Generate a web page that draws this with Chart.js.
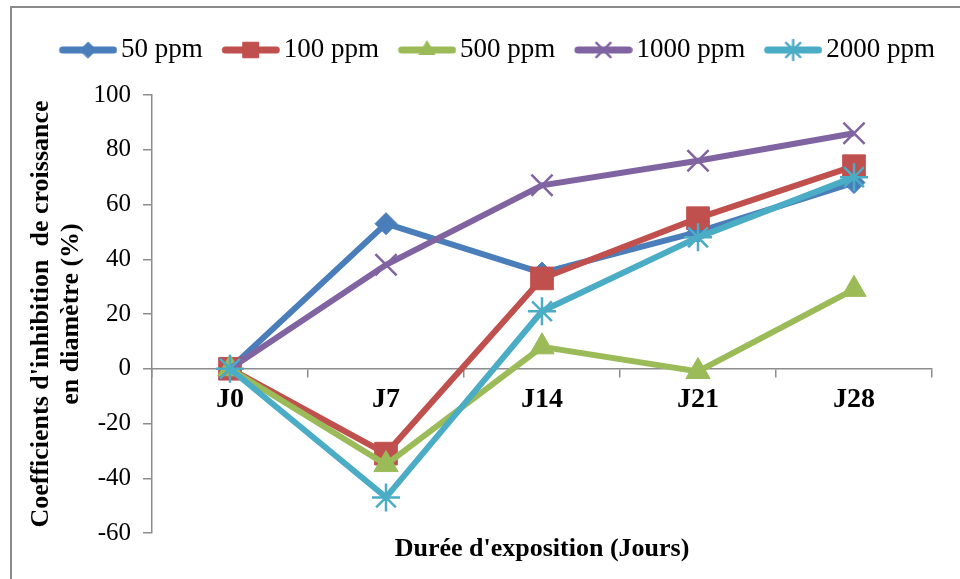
<!DOCTYPE html>
<html>
<head>
<meta charset="utf-8">
<script src="https://cdn.jsdelivr.net/npm/chart.js@4.4.1/dist/chart.umd.min.js"></script>
<style>
  html, body { margin: 0; padding: 0; background: #fff; }
  #wrap { position: relative; width: 960px; height: 579px; }
  #frame { position: absolute; left: 10px; top: 6px; right: 0; bottom: 0;
           border-left: 2px solid #8a8a8a; border-top: 2px solid #8a8a8a; pointer-events: none; }
  canvas { position: absolute; left: 0; top: 0; }
</style>
</head>
<body>
<div id="wrap">
  <canvas id="c" width="960" height="579"></canvas>
  <div id="frame"></div>
</div>
<script>
// Exposure days
const categories = ['J0', 'J7', 'J14', 'J21', 'J28'];

// Growth inhibition coefficients (%) per concentration
const ppm50   = [0, 53, 35, 50, 68];
const ppm100  = [0, -31, 33, 55, 74];
const ppm500  = [0, -35, 8, -1, 29];
const ppm1000 = [0, 38, 67, 76, 86];
const ppm2000 = [0, -47, 21, 48, 70];

const seriesNames = ['50 ppm', '100 ppm', '500 ppm', '1000 ppm', '2000 ppm'];

// Y axis ticks
const yMin = -60, yMax = 100, yStep = 20;

const FONT = "'Liberation Serif', 'Times New Roman', serif";
const AXIS_GREY = '#8c8c8c';

const styles = [
  { color: '#4a7ebb', point: 'rectRot',  radius: 11, pw: 1,   legendR: 8 },
  { color: '#c0504d', point: 'rect',     radius: 16, pw: 1,   legendR: 11 },
  { color: '#9bbb59', point: 'triangle', radius: 14, pw: 1,   legendR: 9 },
  { color: '#8064a2', point: 'crossRot', radius: 15, pw: 2.5, legendR: 10 },
  { color: '#4bacc6', point: 'star',     radius: 14, pw: 2.5, legendR: 10 }
];

// Legend swatch: a short thick line with the series marker in its middle.
// The canvas carries a transparent margin on the left so the visible line
// starts where the legend item starts.
function legendIcon(st) {
  const cv = document.createElement('canvas');
  cv.width = 68; cv.height = 28;
  const ctx = cv.getContext('2d');
  const x0 = 9.75, len = 58, cy = 14;
  ctx.strokeStyle = st.color;
  ctx.lineWidth = 7;
  ctx.lineCap = 'round';
  ctx.beginPath(); ctx.moveTo(x0 + 3.5, cy); ctx.lineTo(x0 + len - 3.5, cy); ctx.stroke();
  ctx.fillStyle = st.color;
  ctx.strokeStyle = st.color;
  ctx.lineWidth = st.pw;
  Chart.helpers.drawPoint(ctx, { pointStyle: st.point, radius: st.legendR, borderWidth: st.pw, rotation: 0 }, x0 + len / 2, cy);
  return cv;
}

// Invisible axis used only to reserve a fixed band of the layout
function spacer(position, size) {
  const horizontal = position === 'top' || position === 'bottom';
  return {
    type: horizontal ? 'category' : 'linear',
    position,
    display: true,
    grid: { display: false, drawTicks: false },
    border: { display: false },
    ticks: { display: false },
    afterFit(scale) { if (horizontal) scale.height = size; else scale.width = size; }
  };
}

const seriesData = [ppm50, ppm100, ppm500, ppm1000, ppm2000];
const datasets = seriesData.map((d, i) => ({
  label: seriesNames[i],
  data: d,
  // later series are painted over earlier ones
  order: seriesData.length - 1 - i,
  borderColor: styles[i].color,
  backgroundColor: styles[i].color,
  borderWidth: 6,
  pointStyle: styles[i].point,
  pointRadius: styles[i].radius,
  pointHoverRadius: styles[i].radius,
  pointBorderWidth: styles[i].pw,
  pointBackgroundColor: styles[i].color,
  pointBorderColor: styles[i].color,
  tension: 0,
  xAxisID: 'x',
  yAxisID: 'y',
  legendIcon: legendIcon(styles[i])
}));

new Chart(document.getElementById('c'), {
  type: 'line',
  data: { labels: categories, datasets },
  options: {
    responsive: false,
    animation: false,
    events: [],
    layout: { padding: { left: 34, right: 0, top: 17.5, bottom: 0 } },
    plugins: {
      tooltip: { enabled: false },
      legend: {
        position: 'top',
        labels: {
          usePointStyle: true,
          pointStyleWidth: 48.5,
          boxHeight: 27,
          padding: 19,
          color: '#000',
          font: { family: FONT, size: 27 },
          generateLabels(chart) {
            return chart.data.datasets.map((ds, i) => ({
              text: ds.label,
              fillStyle: ds.borderColor,
              strokeStyle: ds.borderColor,
              lineWidth: 0,
              pointStyle: ds.legendIcon,
              hidden: false,
              datasetIndex: i,
              fontColor: '#000'
            }));
          }
        }
      }
    },
    scales: {
      x: {
        type: 'category',
        position: { y: 0 },
        offset: true,
        grid: { offset: true, drawOnChartArea: false, drawTicks: true, tickLength: 8, color: AXIS_GREY, lineWidth: 1.5 },
        border: { display: true, color: AXIS_GREY, width: 1.5 },
        ticks: { color: '#000', font: { family: FONT, size: 28, weight: 'bold' }, padding: 6 }
      },
      topBand: spacer('top', 21.5),
      rightBand: spacer('right', 28),
      xTitle: {
        type: 'category',
        position: 'bottom',
        labels: categories,
        offset: true,
        grid: { display: false, drawTicks: false },
        border: { display: false },
        ticks: { display: false },
        title: { display: true, text: "Durée d'exposition (Jours)", color: '#000',
                 font: { family: FONT, size: 26, weight: 'bold', lineHeight: 1.2 }, padding: { top: 0, bottom: 14 } },
        afterFit(scale) { scale.height = 46; }
      },
      y: {
        min: yMin, max: yMax,
        position: 'left',
        grid: { drawOnChartArea: false, drawTicks: true, tickLength: 9, color: AXIS_GREY, lineWidth: 1.5 },
        border: { display: true, color: AXIS_GREY, width: 1.5 },
        ticks: { stepSize: yStep, color: '#000', font: { family: FONT, size: 25 }, padding: 12 },
        title: { display: true, text: ["Coefficients d'inhibition  de croissance", 'en diamètre (%)'],
                 color: '#000', font: { family: FONT, size: 26, weight: 'bold', lineHeight: 1.15 }, padding: { top: -8, bottom: 0 } },
        afterFit(scale) { scale.width = 118; }
      }
    }
  }
});
</script>
</body>
</html>
